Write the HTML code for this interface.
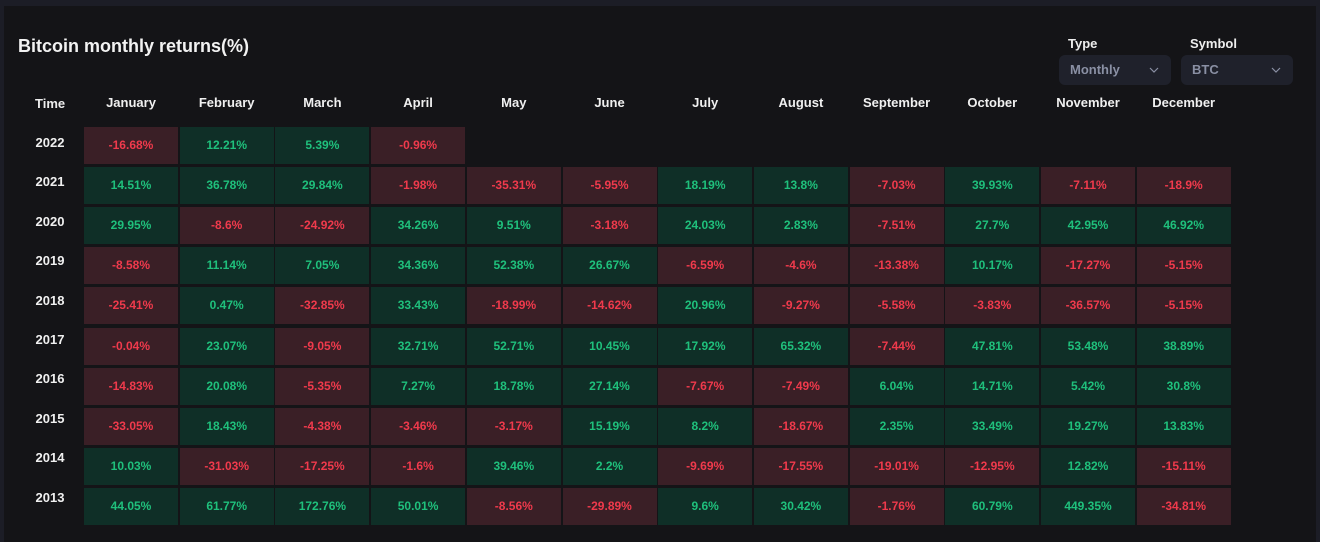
<!DOCTYPE html>
<html><head><meta charset="utf-8">
<style>
body{margin:0;width:1320px;height:542px;background:#1c1d26;overflow:hidden;font-family:"Liberation Sans",sans-serif}
#panel{position:absolute;left:4px;top:6px;width:1312px;height:536px;background:#141417}
#title{position:absolute;left:18px;top:36px;color:#f2f2f2;font-size:18px;font-weight:bold}
.lbl{position:absolute;color:#eee;font-size:13px;font-weight:bold}
.sel{position:absolute;top:55px;height:30px;background:#1f212b;border-radius:6px;color:#8a90a4;font-size:13px;font-weight:bold;line-height:30px;box-sizing:border-box;padding-left:11px}
.sel svg{position:absolute;right:12px;top:12px}
.hd{position:absolute;top:95px;color:#f0f0f0;font-size:13px;font-weight:bold;text-align:center;width:96px}
.yr{position:absolute;left:20px;width:60px;color:#f0f0f0;font-size:13px;font-weight:bold;text-align:center}
.cell{position:absolute;width:94px;height:37px;line-height:37px;text-align:center;font-size:12px;font-weight:bold}
.pos{background:#0f2f27;color:#1fc07c}
.neg{background:#3a1f26;color:#f03a4c}
</style></head><body>
<div id="panel"></div>
<div id="title">Bitcoin monthly returns(%)</div>
<div class="lbl" style="left:1068px;top:36px">Type</div>
<div class="sel" style="left:1059px;width:112px">Monthly<svg width="10" height="6" viewBox="0 0 10 6"><path d="M1 1 L5 5 L9 1" fill="none" stroke="#8a90a4" stroke-width="1.2"/></svg></div>
<div class="lbl" style="left:1190px;top:36px">Symbol</div>
<div class="sel" style="left:1181px;width:112px">BTC<svg width="10" height="6" viewBox="0 0 10 6"><path d="M1 1 L5 5 L9 1" fill="none" stroke="#8a90a4" stroke-width="1.2"/></svg></div>
<div class="lbl" style="left:35px;top:96px">Time</div>
<div id="grid"></div>
<script>
const months=["January","February","March","April","May","June","July","August","September","October","November","December"];
const years=["2022","2021","2020","2019","2018","2017","2016","2015","2014","2013"];
const r2022=[-16.68,12.21,5.39,-0.96];
const r2021=[14.51,36.78,29.84,-1.98,-35.31,-5.95,18.19,13.8,-7.03,39.93,-7.11,-18.9];
const r2020=[29.95,-8.6,-24.92,34.26,9.51,-3.18,24.03,2.83,-7.51,27.7,42.95,46.92];
const r2019=[-8.58,11.14,7.05,34.36,52.38,26.67,-6.59,-4.6,-13.38,10.17,-17.27,-5.15];
const r2018=[-25.41,0.47,-32.85,33.43,-18.99,-14.62,20.96,-9.27,-5.58,-3.83,-36.57,-5.15];
const r2017=[-0.04,23.07,-9.05,32.71,52.71,10.45,17.92,65.32,-7.44,47.81,53.48,38.89];
const r2016=[-14.83,20.08,-5.35,7.27,18.78,27.14,-7.67,-7.49,6.04,14.71,5.42,30.8];
const r2015=[-33.05,18.43,-4.38,-3.46,-3.17,15.19,8.2,-18.67,2.35,33.49,19.27,13.83];
const r2014=[10.03,-31.03,-17.25,-1.6,39.46,2.2,-9.69,-17.55,-19.01,-12.95,12.82,-15.11];
const r2013=[44.05,61.77,172.76,50.01,-8.56,-29.89,9.6,30.42,-1.76,60.79,449.35,-34.81];
const rows=[r2022,r2021,r2020,r2019,r2018,r2017,r2016,r2015,r2014,r2013];
const g=document.getElementById('grid');
const colX=i=>84+i*95.7, rowY=j=>127+j*40.1;
months.forEach((m,i)=>{const d=document.createElement('div');d.className='hd';


d.style.left=(colX(i)-1)+'px';d.textContent=m;g.appendChild(d);});
years.forEach((y,j)=>{const d=document.createElement('div');d.className='yr';


d.style.top=(rowY(j)+8-j*0.7)+'px';d.textContent=y;g.appendChild(d);
rows[j].forEach((v,i)=>{const c=document.createElement('div');c.className='cell '+(v<0?'neg':'pos');


c.style.left=colX(i)+'px';c.style.top=rowY(j)+'px';c.textContent=v+'%';g.appendChild(c);});});
</script>
</body></html>
